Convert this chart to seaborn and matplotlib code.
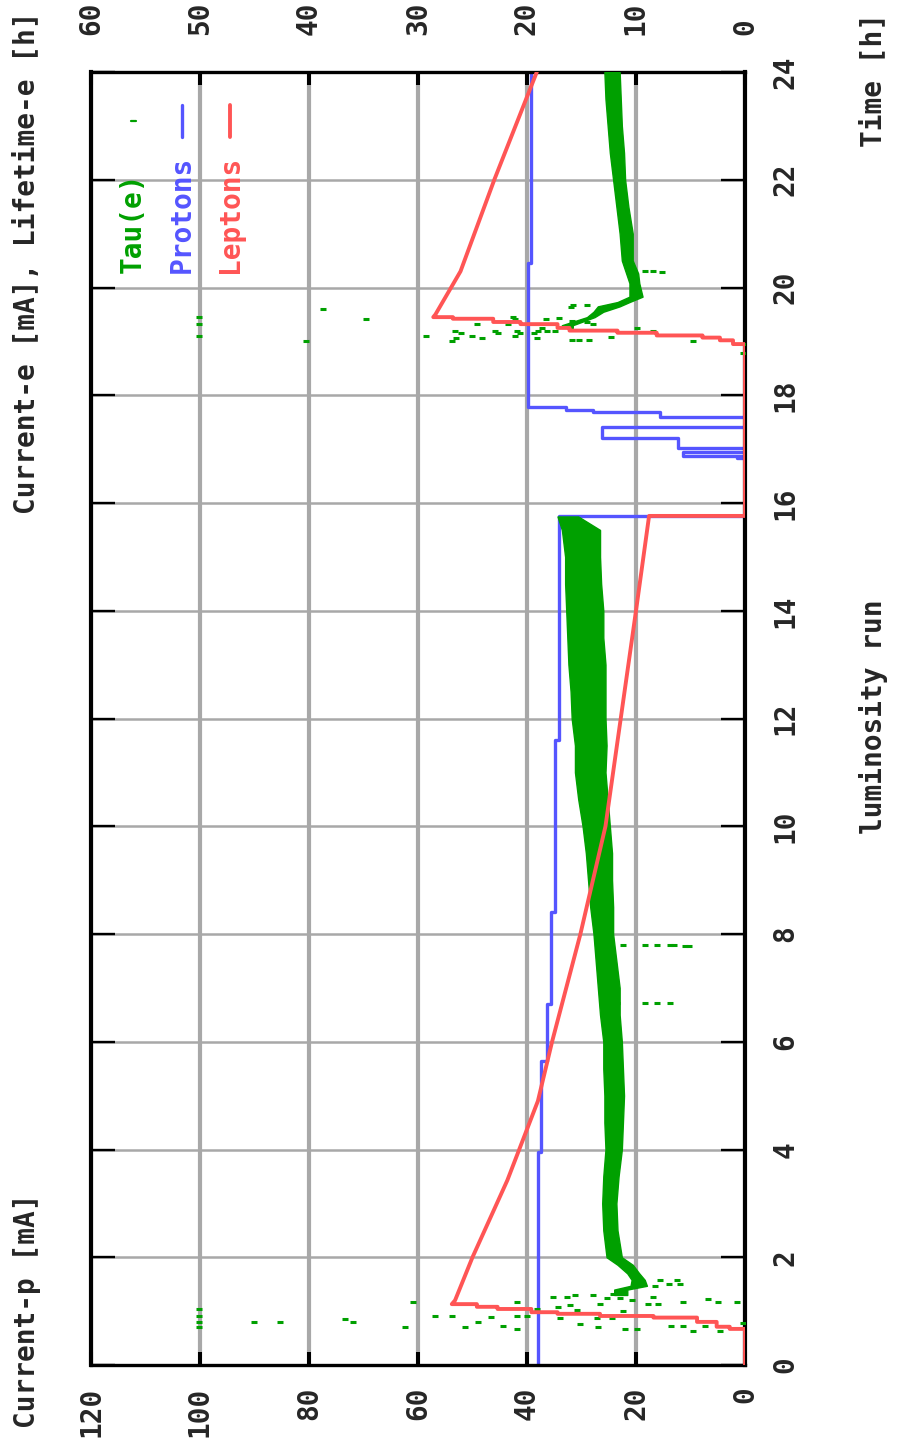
import matplotlib
matplotlib.use("Agg")
import matplotlib.pyplot as plt
import seaborn as sns
import pandas as pd

# ---- data (time in h) ----
# protons current (mA, bottom axis), step corners
proton_t = [0, 3.95, 3.95, 5.65, 5.65, 6.7, 6.7, 8.4, 8.4, 11.6, 11.6, 15.76, 15.76,
            16.84, 16.84, 16.85, 16.85, 16.87, 16.87, 16.95, 16.95, 17.02, 17.02,
            17.21, 17.21, 17.41, 17.41, 17.6, 17.6, 17.69, 17.69, 17.73, 17.73,
            17.78, 17.78, 20.45, 20.45, 24]
proton_ma = [38.0, 38.0, 37.4, 37.4, 36.3, 36.3, 35.6, 35.6, 34.9, 34.9, 34.1, 34.1, 0,
             0, 1.5, 1.5, 0, 0, 11.4, 11.4, 0, 0, 12.3,
             12.3, 26.2, 26.2, 0, 0, 15.6, 15.6, 27.9, 27.9, 32.9,
             32.9, 39.8, 39.8, 39.3, 39.3]

# lepton current (mA, top axis)
lepton_t = [0, 0.67, 0.67, 0.71, 0.71, 0.80, 0.80, 0.88, 0.88, 0.91, 0.91, 0.95, 0.95,
            0.98, 0.98, 1.04, 1.04, 1.08, 1.08, 1.13, 1.13, 1.2, 2.0, 3.43, 4.9, 6.0,
            8.0, 10.0, 12.0, 14.0, 15.76, 15.76, 18.95, 18.95, 19.02, 19.02, 19.07,
            19.07, 19.11, 19.11, 19.16, 19.16, 19.20, 19.20, 19.25, 19.25, 19.32,
            19.32, 19.36, 19.36, 19.42, 19.42, 19.45, 19.45, 19.5, 20.3, 22.0, 24.0]
lepton_ma = [0, 0, 1.4, 1.4, 2.6, 2.6, 4.4, 4.4, 8.4, 8.4, 13.3, 13.3, 17.2,
             17.2, 19.6, 19.6, 22.7, 22.7, 24.6, 24.6, 26.9, 26.6, 25.0, 21.8, 19.0, 17.7,
             15.1, 12.8, 11.4, 10.0, 8.8, 0, 0, 1.1, 1.1, 2.3, 2.3,
             3.9, 3.9, 8.1, 8.1, 11.7, 11.7, 16.1, 16.1, 17.2, 17.2,
             20.6, 20.6, 23.1, 23.1, 26.8, 26.8, 28.6, 28.4, 26.1, 23.0, 19.1]

# lifetime Tau(e) band (h, top axis): time, lower edge, upper edge, fill number
tau_t = [1.30, 1.40, 1.47, 1.58, 1.70, 1.86, 2.0, 2.5, 3.0, 3.5, 4.0, 4.5, 5.0, 5.5,
         6.0, 6.5, 7.0, 7.5, 8.0, 8.5, 9.0, 9.5, 10.0, 10.5, 11.0, 11.5, 12.0, 12.5,
         13.0, 13.5, 14.0, 14.5, 15.0, 15.5, 15.75,
         19.25, 19.30, 19.45, 19.55, 19.65, 19.73, 19.83, 20.08, 20.26, 20.5, 21.0,
         21.5, 22.0, 22.5, 23.0, 23.5, 24.0]
tau_lo = [10.8, 10.8, 9.0, 9.2, 9.7, 10.3, 11.3, 11.7, 11.8, 11.6, 11.3, 11.2, 11.1, 11.2,
          11.3, 11.5, 11.5, 11.8, 12.1, 12.1, 12.2, 12.2, 12.4, 12.6, 12.8, 12.7, 12.8, 12.8,
          12.8, 13.0, 13.0, 13.2, 13.3, 13.3, 15.3,
          15.8, 15.8, 13.8, 13.0, 11.5, 10.6, 9.4, 9.7, 9.8, 10.3, 10.3,
          10.7, 11.0, 11.1, 11.3, 11.4, 11.5]
tau_hi = [12.0, 12.0, 10.5, 10.4, 10.8, 11.7, 12.7, 13.0, 13.1, 13.0, 12.8, 12.9, 12.9, 13.0,
          13.0, 13.3, 13.5, 13.7, 13.9, 14.2, 14.4, 14.6, 14.9, 15.3, 15.6, 15.6, 15.9, 16.0,
          16.2, 16.3, 16.4, 16.5, 16.5, 16.8, 17.2,
          16.8, 16.8, 14.5, 13.9, 13.5, 11.7, 10.6, 10.6, 10.9, 11.3, 11.5,
          11.8, 12.1, 12.4, 12.6, 12.8, 12.9]
tau_fill = [1] * 35 + [2] * 17

# scattered Tau(e) samples during injections
tau_dot_t = [1.04, 0.91, 0.80, 0.71, 0.80, 0.80, 0.85, 0.80, 0.71, 1.17, 0.91, 0.91, 0.71,
             0.80, 0.89, 0.72, 1.17, 0.91, 0.67, 0.91, 1.04, 1.26, 1.08, 0.87, 1.26, 1.11,
             1.30, 1.02, 0.76, 1.30, 0.87, 0.71, 1.13, 1.24, 0.87, 1.32, 1.24, 1.00, 0.67,
             1.20, 0.67, 1.13, 1.26, 1.13, 1.50, 1.50, 0.72, 1.17, 0.72, 0.63, 0.72, 1.22,
             1.17, 0.63, 1.17, 0.78, 1.47, 1.58, 1.58,
             7.80, 7.80, 7.80, 7.80, 7.80, 7.78, 7.78, 6.72, 6.72, 6.72, 6.72,
             19.45, 19.32, 19.10, 19.0, 19.6, 19.42, 19.10, 19.0, 19.2, 19.16, 19.07, 19.1,
             19.32, 19.07, 19.2, 19.16, 19.32, 19.45, 19.42, 19.2, 19.1, 19.16, 19.16, 19.2,
             19.07, 19.42, 19.2, 19.25, 19.2, 19.43, 19.38, 19.03, 19.03, 19.03, 19.36,
             19.33, 19.08, 19.25, 19.2, 19.0, 18.95, 18.78, 20.3, 20.3, 20.28, 19.68,
             19.68, 19.64]
tau_dot_h = [50.1, 50.1, 50.1, 50.1, 45.0, 42.7, 36.7, 36.0, 31.2, 30.5, 28.4, 26.9, 25.7,
             24.5, 23.3, 22.2, 20.9, 20.9, 20.9, 20.0, 19.1, 17.6, 17.2, 17.0, 16.3, 16.1,
             15.6, 15.4, 15.1, 13.9, 13.6, 13.5, 13.3, 12.7, 12.2, 12.1, 11.5, 11.2, 11.0,
             10.4, 9.9, 8.9, 8.4, 8.0, 7.0, 6.0, 6.8, 5.7, 5.7, 4.8, 3.7, 3.4,
             2.5, 2.3, 0.7, 0.2, 8.3, 7.8, 6.2,
             11.2, 9.2, 8.1, 6.9, 6.5, 5.5, 5.1, 11.7, 9.2, 8.1, 6.9,
             50.1, 50.1, 50.1, 40.3, 38.7, 34.8, 29.3, 26.9, 26.6, 26.1, 26.5, 25.0,
             24.6, 24.1, 22.9, 22.7, 21.7, 21.3, 21.1, 20.9, 21.1, 20.6, 19.4, 19.0,
             19.1, 18.3, 18.2, 18.6, 17.4, 17.1, 15.9, 15.9, 15.2, 14.3, 14.5,
             13.9, 12.3, 9.9, 8.4, 4.8, 0.2, 0.2, 9.2, 8.4, 7.6, 14.5,
             15.8, 16.0]

p_ticks = [0, 20, 40, 60, 80, 100, 120]
e_ticks = [0, 10, 20, 30, 40, 50, 60]
t_ticks = list(range(0, 25, 2))

GREEN = "#00a000"
BLUE = "#5555ff"
RED = "#ff5555"
GRAY = "#a8a8a8"

W, H = 898, 1447


def fx(px):
    return px / W


def fy(py):
    return 1 - py / H


sns.set_style("white")
plt.rcParams['font.family'] = ['DejaVu Sans Mono']
plt.rcParams['font.weight'] = 'bold'
FS = 20

fig = plt.figure(figsize=(W / 100, H / 100), dpi=100)
ax = fig.add_axes([fx(91), fy(1365), (745 - 91) / W, (1365 - 72) / H])
ax2 = ax.twiny()

protons = pd.DataFrame({"t": proton_t, "mA": proton_ma})
leptons = pd.DataFrame({"t": lepton_t, "mA": lepton_ma})
tau = pd.DataFrame({"t": tau_t, "lo": tau_lo, "hi": tau_hi, "fill": tau_fill})
dots = pd.DataFrame({"t": tau_dot_t, "h": tau_dot_h})

# grid
ax.set_xlim(120, 0)
ax.set_ylim(0, 24)
ax2.set_xlim(60, 0)
ax.xaxis.grid(True, color=GRAY, linewidth=3.0)
ax.yaxis.grid(True, color=GRAY, linewidth=1.8)

# Tau(e)
for _, part in tau.groupby("fill"):
    ax2.fill_betweenx(part["t"], part["lo"], part["hi"], color=GREEN, linewidth=1.0,
                      edgecolor=GREEN)
sns.scatterplot(data=dots, x="h", y="t", ax=ax2, marker="_", s=16, linewidth=2.2,
                color=GREEN, legend=False)

# Protons
sns.lineplot(data=protons, x="mA", y="t", ax=ax, orient="y", estimator=None,
             sort=False, color=BLUE, linewidth=2.4)
# Leptons
sns.lineplot(data=leptons, x="mA", y="t", ax=ax2, orient="y", estimator=None,
             sort=False, color=RED, linewidth=2.8)

ax.set_xlabel("")
ax.set_ylabel("")
ax2.set_xlabel("")
ax2.set_ylabel("")

# ticks and labels
ax.set_xticks(p_ticks)
ax.set_xticklabels([str(v) for v in p_ticks], rotation=90, fontsize=FS)
ax.set_yticks(t_ticks)
ax.set_yticklabels([str(v) for v in t_ticks], rotation=90, fontsize=FS)
ax.tick_params(axis="x", direction="in", length=9.4, width=2.9, pad=15.5, color="black",
               bottom=True, top=False)
ax.tick_params(axis="y", direction="in", length=17.3, width=1.7, pad=19, color="black",
               left=True, right=True, labelleft=False, labelright=True)
for lbl in ax.get_yticklabels():
    lbl.set_va("center")

ax2.set_xticks(e_ticks)
ax2.set_xticklabels([str(v) for v in e_ticks], rotation=90, fontsize=FS)
ax2.tick_params(axis="x", direction="in", length=9.4, width=2.9, pad=26.5, color="black")
for lbl in ax2.get_xticklabels():
    lbl.set_va("bottom")

for side in ["left", "right"]:
    ax.spines[side].set_linewidth(3.0)
for side in ["top", "bottom"]:
    ax.spines[side].set_linewidth(2.4)
for sp in ax.spines.values():
    sp.set_color("black")
for sp in ax2.spines.values():
    sp.set_visible(False)

# axis titles
fig.text(fx(27), fy(1428), "Current-p [mA]", rotation=90, ha="center", va="bottom",
         fontsize=FS)
fig.text(fx(27), fy(12), "Current-e [mA], Lifetime-e [h]", rotation=90, ha="center",
         va="top", fontsize=FS)
fig.text(fx(873), fy(13), "Time [h]", rotation=90, ha="center", va="top", fontsize=FS)
fig.text(fx(873), fy(717), "luminosity run", rotation=90, ha="center", va="center",
         fontsize=FS)

# key
fig.text(fx(133), fy(273), "Tau(e)", rotation=90, ha="center", va="bottom",
         fontsize=FS, color=GREEN)
fig.text(fx(182), fy(273), "Protons", rotation=90, ha="center", va="bottom",
         fontsize=FS, color=BLUE)
fig.text(fx(230), fy(273), "Leptons", rotation=90, ha="center", va="bottom",
         fontsize=FS, color=RED)
fig.add_artist(plt.Line2D([fx(182), fx(182)], [fy(105), fy(137)], color=BLUE,
                          linewidth=2.4))
fig.add_artist(plt.Line2D([fx(230), fx(230)], [fy(105), fy(137)], color=RED,
                          linewidth=2.8))
fig.add_artist(plt.Line2D([fx(131), fx(136)], [fy(121), fy(121)], color=GREEN,
                          linewidth=1.6))

fig.savefig("out.png", dpi=100)
